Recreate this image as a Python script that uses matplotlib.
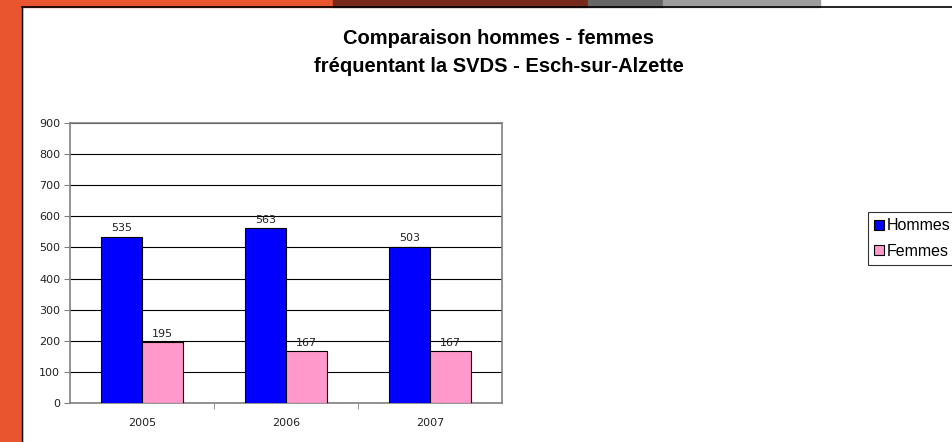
import matplotlib.pyplot as plt
from matplotlib.patches import Rectangle
import numpy as np

years = ['2005', '2006', '2007']
hommes = [535, 563, 503]
femmes = [195, 167, 167]
series_names = ['Hommes', 'Femmes']

plt.rcParams['font.family'] = ['Liberation Sans', 'DejaVu Sans']

W, H = 953, 442
fig = plt.figure(figsize=(W / 100, H / 100), dpi=100)
fig.patch.set_facecolor('white')

# slide background around the white panel
orange = '#e8552f'
top = 1 - 7 / H
strip = [(0, 333, orange), (333, 588, '#76281a'), (588, 663, '#666666'), (663, 820, '#9c9c9c')]
fig.add_artist(Rectangle((0, 0), 22 / W, 1, transform=fig.transFigure, color=orange, zorder=0))
for x0, x1, c in strip:
    fig.add_artist(Rectangle((x0 / W, top), (x1 - x0) / W, 7 / H, transform=fig.transFigure, color=c, zorder=0))
fig.add_artist(plt.Line2D([22.5 / W, 22.5 / W], [0, top], transform=fig.transFigure, color='black', lw=1))
fig.add_artist(plt.Line2D([22 / W, 1], [top, top], transform=fig.transFigure, color='black', lw=1.2))

ax = fig.add_axes([70 / W, 1 - 403 / H, 432 / W, 280 / H])
x = np.arange(len(years))
w = 0.285
b1 = ax.bar(x - w / 2, hommes, w, color='#0000ff', edgecolor='black', lw=0.8, label=series_names[0], zorder=3)
b2 = ax.bar(x + w / 2, femmes, w, color='#ff99cc', edgecolor='black', lw=0.8, label=series_names[1], zorder=3)

tickfont = {'family': 'DejaVu Sans', 'size': 8}
for bars in (b1, b2):
    for r in bars:
        ax.text(r.get_x() + r.get_width() / 2, r.get_height() + 10, str(int(r.get_height())),
                ha='center', va='bottom', color='#222222', fontdict=tickfont)

ax.set_xlim(-0.5, 2.5)
ax.set_ylim(0, 900)
ax.set_yticks(range(0, 901, 100))
ax.set_xticks(x)
ax.set_xticklabels(years, fontdict=tickfont)
ax.set_yticklabels([str(v) for v in range(0, 901, 100)], fontdict=tickfont)
ax.set_xticks([0.5, 1.5], minor=True)
ax.tick_params(axis='x', which='major', length=0, pad=11, labelcolor='#222222')
ax.tick_params(axis='x', which='minor', length=4, direction='out', color='#808080')
ax.tick_params(axis='y', length=4, direction='out', color='#808080', labelcolor='#222222', pad=3)
ax.yaxis.grid(True, color='black', lw=0.8, zorder=0)
for s in ax.spines.values():
    s.set_color('#808080')
    s.set_linewidth(1.2)

fig.text(499 / W, 1 - 38 / H, 'Comparaison hommes - femmes', ha='center', va='center',
         fontsize=14.5, fontweight='bold')
fig.text(499 / W, 1 - 67 / H, 'fréquentant la SVDS - Esch-sur-Alzette', ha='center', va='center',
         fontsize=14.5, fontweight='bold')

leg = fig.legend(handles=[b1, b2], loc='upper left', bbox_to_anchor=(868 / W, 1 - 212 / H),
                 frameon=True, fancybox=False, edgecolor='black', fontsize=11.5,
                 handlelength=0.6, handleheight=0.6, handletextpad=0.15, borderpad=0.4,
                 labelspacing=0.65, borderaxespad=0)
leg.get_frame().set_linewidth(0.8)

fig.savefig('out.png', dpi=100)
